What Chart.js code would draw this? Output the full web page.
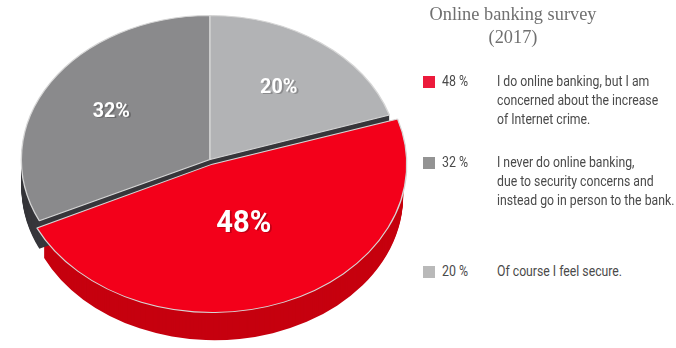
<!DOCTYPE html>
<html>
<head>
<meta charset="utf-8">
<script src="https://cdn.jsdelivr.net/npm/chart.js@4"></script>
<style>
  body { margin: 0; width: 676px; height: 348px; background: #fff; position: relative; overflow: hidden;
         font-family: "Roboto", "Liberation Sans", sans-serif; }
  #pieBox { position: absolute; left: 0; top: 0; width: 420px; height: 348px; }
  #title { position: absolute; left: 400px; width: 226px; top: 2px; text-align: center;
           font-family: "Liberation Serif", "DejaVu Serif", serif; font-size: 19.5px; line-height: 23px; color: #707070;
           transform: scaleX(0.94); transform-origin: 113px 0; }
  .item { position: absolute; left: 423px; font-size: 15.5px; line-height: 19px; color: #4a4a4a; }
  .sw { position: absolute; left: 0; top: 4px; width: 12px; height: 12px; }
  .pct { position: absolute; left: 19px; top: 0; white-space: nowrap; transform: scaleX(0.8); transform-origin: 0 0; }
  .txt { position: absolute; left: 74px; top: 0; white-space: nowrap; transform: scaleX(0.79); transform-origin: 0 0; }
</style>
</head>
<body>
<div id="pieBox"><canvas id="pie"></canvas></div>
<div id="title">Online banking survey<br>(2017)</div>
<div id="legend"></div>

<script>
// survey answers, in legend order
const shares = [48, 32, 20];
const answers = [
  ["I do online banking, but I am", "concerned about the increase", "of Internet crime."],
  ["I never do online banking,", "due to security concerns and", "instead go in person to the bank."],
  ["Of course I feel secure."]
];
const sliceColors = ["#f3001a", "#8a8a8c", "#b2b3b5"];
const wallColors = ["#c6000f", "#37373b", "#37373b"];
const keyColors = ["#ec1a3b", "#939393", "#b9b9b9"];
const legendTops = [72, 153, 262];

// pie is stretched into an ellipse and given a side wall
const stretchX = 1.31;
const wallDepth = 28;

function shiftOf(arc) {
  // same displacement ArcElement applies for options.offset
  const off = (arc.options.offset || 0) / 4;
  const circ = arc.endAngle - arc.startAngle;
  const fix = 1 - Math.sin(Math.min(Math.PI, circ));
  const mid = (arc.startAngle + arc.endAngle) / 2;
  const d = off * (1 + fix);
  return { x: Math.cos(mid) * d, y: Math.sin(mid) * d };
}

const tiltPlugin = {
  id: "tilt",
  beforeDatasetsDraw(chart) {
    const ctx = chart.ctx;
    const arcs = chart.getDatasetMeta(0).data;
    const cx = arcs[0].x, cy = arcs[0].y;
    ctx.save();
    ctx.translate(cx, cy);
    ctx.scale(stretchX, 1);
    ctx.translate(-cx, -cy);
    arcs.forEach((arc, i) => {
      const s = shiftOf(arc);
      ctx.fillStyle = wallColors[i];
      for (let d = wallDepth; d > 0; d--) {
        ctx.beginPath();
        ctx.moveTo(arc.x + s.x, arc.y + s.y + d);
        ctx.arc(arc.x + s.x, arc.y + s.y + d, arc.outerRadius, arc.startAngle, arc.endAngle);
        ctx.closePath();
        ctx.fill();
      }
    });
  },
  afterDatasetsDraw(chart) {
    const ctx = chart.ctx;
    ctx.restore();
    const arcs = chart.getDatasetMeta(0).data;
    ctx.textAlign = "center";
    ctx.textBaseline = "middle";
    arcs.forEach((arc, i) => {
      const s = shiftOf(arc);
      const mid = (arc.startAngle + arc.endAngle) / 2;
      const r = arc.outerRadius * (i === 0 ? 0.42 : 0.62);
      const x = arc.x + (s.x + Math.cos(mid) * r) * stretchX;
      const y = arc.y + s.y + Math.sin(mid) * r;
      const size = i === 0 ? 31 : 21;
      ctx.save();
      ctx.translate(x, y);
      ctx.scale(0.94, 1);
      ctx.font = "bold " + size + "px Roboto, 'Liberation Sans', sans-serif";
      ctx.fillStyle = "rgba(0,0,0,0.22)";
      ctx.fillText(shares[i] + "%", 2, 1);
      ctx.fillStyle = "#ffffff";
      ctx.fillText(shares[i] + "%", 0, 0);
      ctx.restore();
    });
  }
};

new Chart(document.getElementById("pie"), {
  type: "pie",
  data: {
    labels: answers.map(a => a.join(" ")),
    datasets: [{
      data: shares,
      backgroundColor: sliceColors,
      borderColor: "#d6d6d6",
      borderWidth: 1,
      offset: [20, 0, 0],
      hoverOffset: 0
    }]
  },
  options: {
    responsive: true,
    maintainAspectRatio: false,
    animation: false,
    rotation: 72,
    layout: { padding: { top: 5, bottom: 34, left: 0, right: 0 } },
    plugins: { legend: { display: false }, tooltip: { enabled: false } }
  },
  plugins: [tiltPlugin]
});

// legend on the right
const legend = document.getElementById("legend");
shares.forEach((v, i) => {
  const item = document.createElement("div");
  item.className = "item";
  item.style.top = legendTops[i] + "px";
  item.innerHTML = '<div class="sw" style="background:' + keyColors[i] + '"></div>' +
    '<div class="pct">' + v + ' %</div>' +
    '<div class="txt">' + answers[i].join("<br>") + '</div>';
  legend.appendChild(item);
});
</script>
</body>
</html>
